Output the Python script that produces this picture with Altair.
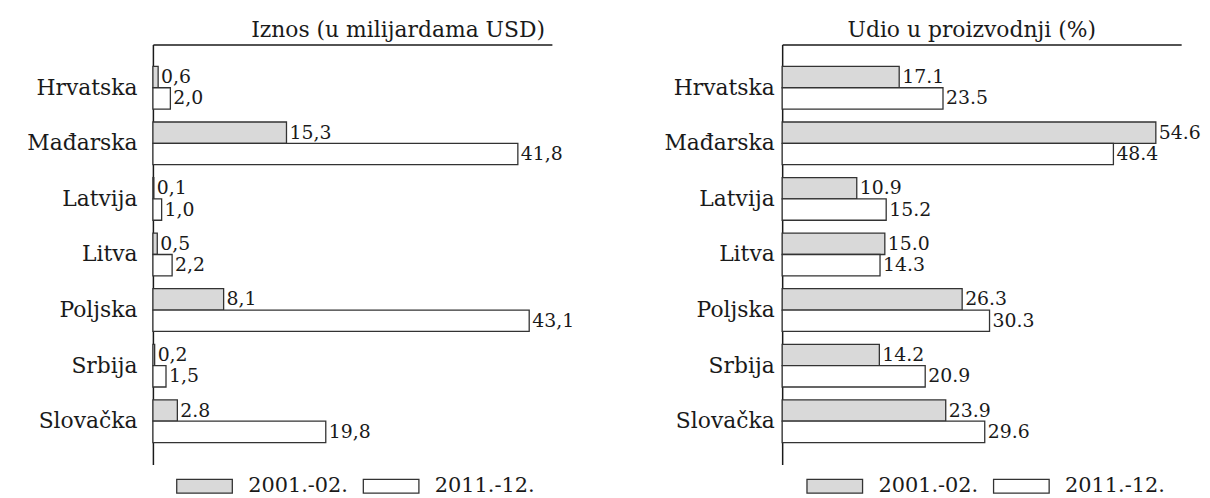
import altair as alt
import pandas as pd

countries = ["Hrvatska", "Mađarska", "Latvija", "Litva", "Poljska", "Srbija", "Slovačka"]
periods = ["2001.-02.", "2011.-12."]

iznos_2001 = [0.6, 15.3, 0.1, 0.5, 8.1, 0.2, 2.8]
iznos_2011 = [2.0, 41.8, 1.0, 2.2, 43.1, 1.5, 19.8]
iznos_lab_2001 = ["0,6", "15,3", "0,1", "0,5", "8,1", "0,2", "2.8"]
iznos_lab_2011 = ["2,0", "41,8", "1,0", "2,2", "43,1", "1,5", "19,8"]

udio_2001 = [17.1, 54.6, 10.9, 15.0, 26.3, 14.2, 23.9]
udio_2011 = [23.5, 48.4, 15.2, 14.3, 30.3, 20.9, 29.6]
udio_lab_2001 = ["17.1", "54.6", "10.9", "15.0", "26.3", "14.2", "23.9"]
udio_lab_2011 = ["23.5", "48.4", "15.2", "14.3", "30.3", "20.9", "29.6"]

FONT = "DejaVu Serif"
INK = "#1a1a1a"


def make_df(v1, v2, l1, l2):
    rows = []
    for c, a, la in zip(countries, v1, l1):
        rows.append({"country": c, "period": periods[0], "value": a, "label": la})
    for c, b, lb in zip(countries, v2, l2):
        rows.append({"country": c, "period": periods[1], "value": b, "label": lb})
    return pd.DataFrame(rows)


def panel(df, title, xmax, width, label_pad, title_dx, legend_x):
    base = alt.Chart(df).encode(
        y=alt.Y(
            "country:N", sort=countries,
            scale=alt.Scale(paddingInner=0.232, paddingOuter=0.393),
            axis=alt.Axis(
                title=None, ticks=False, labelFont=FONT, labelFontSize=22,
                labelColor=INK, labelPadding=label_pad, labelAlign="right",
                domainColor=INK, domainWidth=1.5,
            ),
        ),
        yOffset=alt.YOffset("period:N", sort=periods,
                            scale=alt.Scale(paddingInner=0, paddingOuter=0)),
        x=alt.X(
            "value:Q",
            scale=alt.Scale(domain=[0, xmax], nice=False, zero=True),
            axis=alt.Axis(
                orient="top", labels=False, ticks=False, title=None, grid=False,
                domainColor=INK, domainWidth=1.5,
            ),
        ),
    )
    bars = base.mark_bar(stroke="#333333", strokeWidth=1.3).encode(
        fill=alt.Fill(
            "period:N", sort=periods,
            scale=alt.Scale(domain=periods, range=["#d9d9d9", "#ffffff"]),
            legend=alt.Legend(
                title=None, orient="none", legendX=legend_x, legendY=416,
                direction="horizontal", columns=2,
                symbolType="M-1,-0.25L1,-0.25L1,0.25L-1,0.25Z",
                symbolSize=3136, symbolStrokeColor="#333333",
                symbolStrokeWidth=1.3, symbolOpacity=1,
                labelFont=FONT, labelFontSize=21, labelColor=INK,
                labelOffset=15, columnPadding=12, padding=0,
            ),
        ),
    )
    text = base.mark_text(
        align="left", baseline="middle", dx=3, font=FONT, fontSize=19, color=INK
    ).encode(text="label:N")
    return alt.layer(bars, text).properties(
        width=width,
        height=423,
        view=alt.ViewBackground(stroke="transparent", fill="white"),
        title=alt.TitleParams(
            title, font=FONT, fontSize=22, fontWeight="normal", color=INK,
            anchor="middle", dx=title_dx, offset=3,
        ),
    )


left = panel(make_df(iznos_2001, iznos_2011, iznos_lab_2001, iznos_lab_2011),
             "Iznos (u milijardama USD)", 45.7, 402, 16, 46, 23)
right = panel(make_df(udio_2001, udio_2011, udio_lab_2001, udio_lab_2011),
              "Udio u proizvodnji (%)", 58.3, 402, 8, -10, 24)

chart = (
    alt.hconcat(left, right, spacing=232, bounds="flush")
    .resolve_scale(fill="independent")
    .properties(padding={"left": 18, "top": 8, "right": 0, "bottom": 0})
    .configure_view(stroke="transparent")
    .configure(background="white")
)

chart.save("out.html", embed_options={"renderer": "svg", "actions": False})
